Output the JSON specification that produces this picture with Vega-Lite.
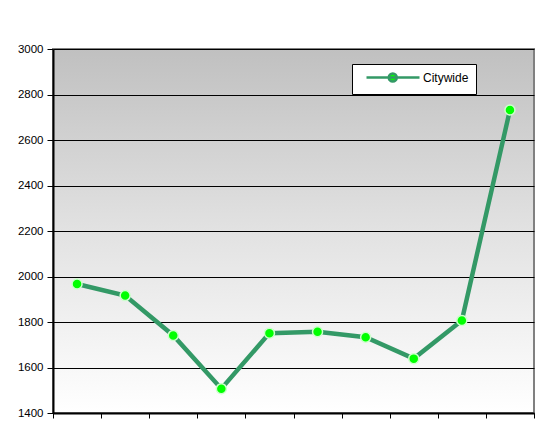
{
  "$schema": "https://vega.github.io/schema/vega-lite/v6.json",
  "width": 481,
  "height": 364,
  "autosize": {"type": "none"},
  "padding": {"left": 53, "top": 49, "right": 12, "bottom": 16},
  "background": "#ffffff",
  "config": {
    "font": "Liberation Sans",
    "view": {
      "stroke": "#808080",
      "strokeWidth": 2,
      "fill": {
        "gradient": "linear",
        "x1": 0, "y1": 0, "x2": 0, "y2": 1,
        "stops": [
          {"offset": 0, "color": "#c0c0c0"},
          {"offset": 0.5, "color": "#e2e2e2"},
          {"offset": 1, "color": "#ffffff"}
        ]
      }
    }
  },
  "data": {
    "values": [
      {"period": "P1", "series": "Citywide", "value": 1967},
      {"period": "P2", "series": "Citywide", "value": 1916},
      {"period": "P3", "series": "Citywide", "value": 1741},
      {"period": "P4", "series": "Citywide", "value": 1507},
      {"period": "P5", "series": "Citywide", "value": 1751},
      {"period": "P6", "series": "Citywide", "value": 1757},
      {"period": "P7", "series": "Citywide", "value": 1733},
      {"period": "P8", "series": "Citywide", "value": 1639},
      {"period": "P9", "series": "Citywide", "value": 1807},
      {"period": "P10", "series": "Citywide", "value": 2732}
    ]
  },
  "encoding": {
    "x": {
      "field": "period", "type": "ordinal", "sort": null,
      "scale": {"type": "band", "paddingInner": 0, "paddingOuter": 0},
      "axis": {
        "title": null, "labels": false, "tickBand": "extent",
        "domainColor": "#000000", "domainWidth": 2,
        "tickColor": "#000000", "tickSize": 5, "tickWidth": 1
      }
    },
    "y": {
      "field": "value", "type": "quantitative",
      "scale": {"domain": [1400, 3000], "nice": false, "zero": false},
      "axis": {
        "title": null,
        "format": "d",
        "values": [1400, 1600, 1800, 2000, 2200, 2400, 2600, 2800, 3000],
        "grid": true, "gridColor": "#000000", "gridWidth": 1, "gridOpacity": 1,
        "domainColor": "#000000", "domainWidth": 2,
        "tickColor": "#000000", "tickSize": 6, "tickWidth": 1,
        "labelFont": "Liberation Sans", "labelFontSize": 11.5, "labelColor": "#000000",
        "labelPadding": 4
      }
    }
  },
  "layer": [
    {
      "mark": {"type": "line", "strokeWidth": 4.5, "color": "#339966"}
    },
    {
      "mark": {"type": "point", "filled": true, "shape": "circle", "size": 100, "stroke": "#ccffcc", "strokeWidth": 1.5, "opacity": 1},
      "encoding": {
        "fill": {
          "field": "series", "type": "nominal",
          "scale": {"range": ["#00ff00"]},
          "legend": {
            "title": null,
            "orient": "none",
            "legendX": 299,
            "legendY": 15,
            "fillColor": "#ffffff",
            "strokeColor": "#000000",
            "padding": 7,
            "symbolType": "M0.2,0H10.8M4.65,0a0.8,0.8 0 1,0 1.6,0a0.8,0.8 0 1,0 -1.6,0",
            "symbolSize": 100,
            "symbolStrokeWidth": 2.5,
            "symbolStrokeColor": "#339966",
            "symbolOpacity": 1,
            "labelFontSize": 12,
            "labelColor": "#000000",
            "labelOffset": 51
          }
        }
      }
    }
  ]
}
